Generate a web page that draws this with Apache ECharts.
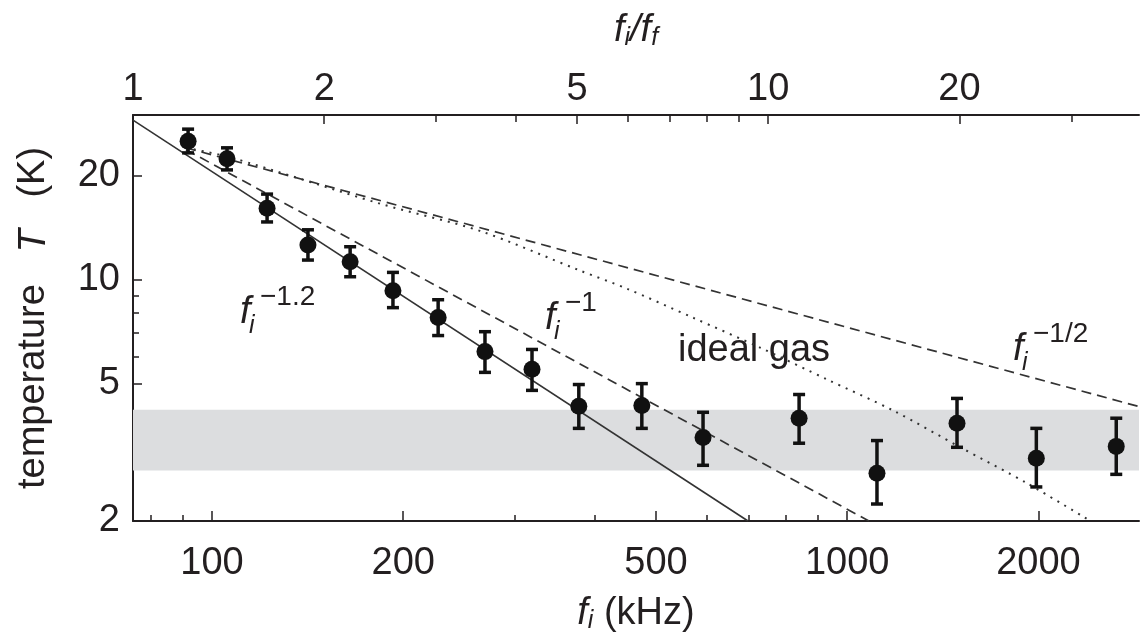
<!DOCTYPE html>
<html>
<head>
<meta charset="utf-8">
<title>temperature vs f_i</title>
<style>
    html, body { margin: 0; padding: 0; background: #fff; }
    #main { width: 1140px; height: 638px; }
</style>
</head>
<body>
<div id="main"></div>
<script src="https://cdn.jsdelivr.net/npm/echarts@6/dist/echarts.min.js"></script>
<script>
    // measured points: f_i (kHz), T (K), bottom / top of error bar
    var freq     = [91.7, 105.6, 122.1, 141.6, 165, 192.7, 227, 269, 319, 378, 475, 593, 840, 1114, 1489, 1985, 2652];
    var temp     = [25.2, 22.4, 16.1, 12.6, 11.27, 9.29, 7.77, 6.19, 5.50, 4.30, 4.32, 3.49, 3.97, 2.75, 3.84, 3.04, 3.29];
    var tempLow  = [23.3, 20.8, 14.7, 11.4, 10.2, 8.3, 6.89, 5.39, 4.78, 3.71, 3.71, 2.90, 3.36, 2.24, 3.27, 2.51, 2.73];
    var tempHigh = [27.3, 24.1, 17.7, 13.95, 12.46, 10.5, 8.75, 7.07, 6.28, 4.97, 5.0, 4.13, 4.65, 3.42, 4.53, 3.71, 3.97];

    // guide curves
    var fitMinus12 = [[75.1, 29.0], [698, 2]];
    var fitMinus1 = [[91, 23.8], [1082, 2]];
    var fitMinusHalf = [[91, 24.1], [2880, 4.29]];
    var idealGas = [[91, 24.1], [107, 22.6], [184, 16.6], [264, 13.85], [380, 10.62], [450, 9.42], [572, 7.76],
                    [729, 6.36], [930, 5.14], [1181, 4.18], [1507, 3.27], [1921, 2.57], [2414, 2.0]];

    // 3.5 +- 0.7 K band
    var band = [2.8, 4.2];

    // axis ranges and ticks
    var freqRange = [75.1, 2880];
    var ratioRange = [1, 38.35];
    var tempRange = [2, 30];
    var freqMajor = [100, 200, 500, 1000, 2000];
    var freqMinor = [80, 90, 300, 400, 600, 700, 800, 900];
    var ratioMajor = [1, 2, 5, 10, 20];
    var ratioMinor = [3, 4, 6, 7, 8, 9, 30];
    var tempMajor = [2, 5, 10, 20];
    var tempMinor = [3, 4, 6, 7, 8, 9];

    var FONT = '"Liberation Sans", Arial, Helvetica, sans-serif';
    var INK = '#231f20';
    var LINE = '#333';

    var points = [], bars = [];
    for (var i = 0; i < freq.length; i++) {
        points.push([freq[i], temp[i]]);
        bars.push([freq[i], tempLow[i], tempHigh[i]]);
    }

    function renderErrorBar(params, api) {
        var f = api.value(0);
        var lo = api.coord([f, api.value(1)]);
        var hi = api.coord([f, api.value(2)]);
        var cap = 6;
        var style = { stroke: '#111', lineWidth: 3.5 };
        return {
            type: 'group',
            children: [
                { type: 'line', shape: { x1: lo[0], y1: lo[1], x2: hi[0], y2: hi[1] }, style: style },
                { type: 'line', shape: { x1: lo[0] - cap, y1: lo[1], x2: lo[0] + cap, y2: lo[1] }, style: style },
                { type: 'line', shape: { x1: hi[0] - cap, y1: hi[1], x2: hi[0] + cap, y2: hi[1] }, style: style }
            ]
        };
    }

    function logAxis(pos, range, ticks, labels, tickLen, extra) {
        var ax = {
            type: 'log',
            logBase: 10,
            position: pos,
            min: range[0],
            max: range[1],
            axisLine: { show: !!labels, onZero: false, lineStyle: { color: INK, width: 2 } },
            axisTick: { show: true, inside: true, length: tickLen, customValues: ticks, lineStyle: { color: INK, width: 1.5 } },
            axisLabel: labels ? {
                show: true, customValues: labels, color: INK, fontSize: 38, fontFamily: FONT,
                formatter: function (v) { return String(Math.round(v)); }
            } : { show: false },
            splitLine: { show: false },
            minorTick: { show: false },
            minorSplitLine: { show: false }
        };
        for (var k in extra) ax[k] = extra[k];
        return ax;
    }

    // power-law labels: f_i with a superscript
    function powerLabel(left, mid, exp) {
        return {
            type: 'group',
            children: [
                { type: 'text', x: left, y: mid, style: { text: 'f', font: 'italic 38px ' + FONT, fill: INK, verticalAlign: 'middle' } },
                { type: 'text', x: left + 9, y: mid + 14, style: { text: 'i', font: 'italic 25px ' + FONT, fill: INK, verticalAlign: 'middle' } },
                { type: 'text', x: left + 20, y: mid - 15, style: { text: exp, font: '28px ' + FONT, fill: INK, verticalAlign: 'middle' } }
            ]
        };
    }

    var xBottom = logAxis('bottom', freqRange, freqMajor, freqMajor, 10, {
        name: '{it|f}{sub|i} (kHz)',
        nameLocation: 'middle',
        nameGap: 72,
        nameTextStyle: {
            color: INK, fontSize: 38, fontFamily: FONT,
            rich: {
                it: { fontStyle: 'italic', fontSize: 38, fontFamily: FONT, color: INK },
                sub: { fontStyle: 'italic', fontSize: 25, fontFamily: FONT, color: INK, padding: [16, 0, 0, 0] }
            }
        }
    });
    xBottom.axisLabel.margin = 24;

    var xTop = logAxis('top', ratioRange, ratioMajor, ratioMajor, 9, {
        name: '{it|f}{sub|i}{it|/f}{sub|f}',
        nameLocation: 'middle',
        nameGap: 64,
        nameTextStyle: {
            color: INK, fontSize: 38, fontFamily: FONT,
            rich: {
                it: { fontStyle: 'italic', fontSize: 38, fontFamily: FONT, color: INK },
                sub: { fontStyle: 'italic', fontSize: 25, fontFamily: FONT, color: INK, padding: [16, 0, 0, 0] }
            }
        }
    });
    xTop.axisLabel.margin = 6;

    var yLeft = logAxis('left', tempRange, tempMajor, tempMajor, 9, {
        name: '{n|temperature}   {it|T}   {n|(K)}',
        nameLocation: 'middle',
        nameGap: 80,
        nameRotate: 90,
        nameTextStyle: {
            color: INK, fontSize: 38, fontFamily: FONT,
            rich: {
                n: { fontSize: 38, fontFamily: FONT, color: INK },
                it: { fontStyle: 'italic', fontSize: 38, fontFamily: FONT, color: INK }
            }
        }
    });
    yLeft.axisLabel.margin = 13;

    var option = {
        backgroundColor: '#ffffff',
        animation: false,
        grid: { left: 133, right: 1, top: 115, bottom: 117, outerBoundsMode: 'none', containLabel: false },
        xAxis: [
            xBottom,
            logAxis('bottom', freqRange, freqMinor, null, 6),
            xTop,
            logAxis('top', ratioRange, ratioMinor, null, 7)
        ],
        yAxis: [
            yLeft,
            logAxis('left', tempRange, tempMinor, null, 6)
        ],
        graphic: [
            powerLabel(240, 312, '\u22121.2'),
            powerLabel(545, 318, '\u22121'),
            powerLabel(1013, 349, '\u22121/2'),
            { type: 'text', x: 678, y: 351, style: { text: 'ideal gas', font: '38px ' + FONT, fill: INK, verticalAlign: 'middle' } },
            { type: 'text', x: 212, y: 444, style: { text: '3.5 \u00b1 0.7 K', font: '39px ' + FONT, fill: INK, verticalAlign: 'middle' } }
        ],
        series: [
            {
                name: 'band',
                type: 'line',
                z: 0,
                data: [[freqRange[0], band[0]]],
                showSymbol: false,
                lineStyle: { opacity: 0 },
                markArea: {
                    silent: true,
                    itemStyle: { color: '#dcdddf' },
                    data: [[{ yAxis: band[0] }, { yAxis: band[1] }]]
                }
            },
            {
                name: 'f^-1.2',
                type: 'line',
                z: 3,
                data: fitMinus12,
                showSymbol: false,
                lineStyle: { color: LINE, width: 1.6 }
            },
            {
                name: 'f^-1',
                type: 'line',
                z: 3,
                data: fitMinus1,
                showSymbol: false,
                lineStyle: { color: LINE, width: 1.7, type: [10, 6] }
            },
            {
                name: 'f^-1/2',
                type: 'line',
                z: 3,
                data: fitMinusHalf,
                showSymbol: false,
                lineStyle: { color: LINE, width: 1.7, type: [10, 6] }
            },
            {
                name: 'ideal gas',
                type: 'line',
                z: 3,
                data: idealGas,
                smooth: 0.3,
                showSymbol: false,
                lineStyle: { color: LINE, width: 2, type: [2, 6] }
            },
            {
                name: 'error',
                type: 'custom',
                z: 4,
                renderItem: renderErrorBar,
                encode: { x: 0, y: [1, 2] },
                data: bars
            },
            {
                name: 'T',
                type: 'scatter',
                z: 5,
                symbol: 'circle',
                symbolSize: 17,
                itemStyle: { color: '#111', opacity: 1 },
                data: points
            }
        ]
    };

    var chart = echarts.init(document.getElementById('main'));
    chart.setOption(option);
</script>
</body>
</html>
